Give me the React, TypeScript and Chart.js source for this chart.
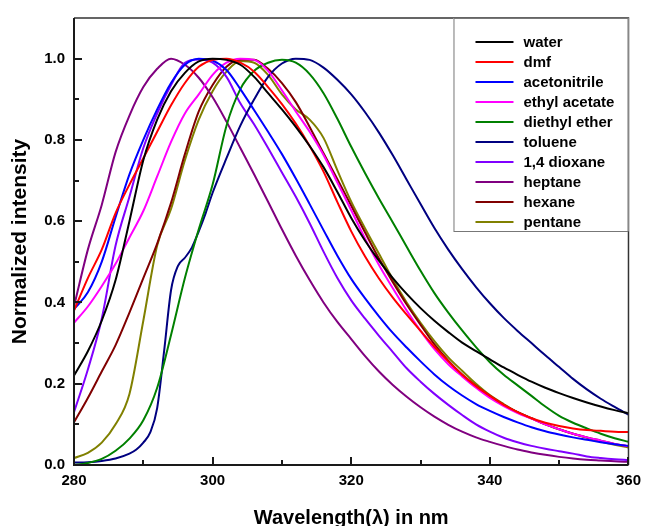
import React, { useEffect, useRef } from "react";
import { Chart, registerables } from "chart.js";

Chart.register(...registerables);

// ---- data (normalized emission) ----
const wavelengths = [
  280, 282, 284, 286, 288, 290, 292, 294, 296, 298, 300,
  302, 304, 306, 308, 310, 312, 314, 316, 318, 320,
  322, 324, 326, 328, 330, 332, 334, 336, 338, 340,
  342, 344, 346, 348, 350, 352, 354, 356, 358, 360,
];

const water = [
  0.22, 0.28, 0.355, 0.455, 0.6, 0.75, 0.85, 0.92, 0.965, 0.993, 1.0,
  0.997, 0.985, 0.955, 0.915, 0.875, 0.832, 0.785, 0.733, 0.672, 0.608,
  0.552, 0.503, 0.46, 0.421, 0.386, 0.355, 0.327, 0.301, 0.28, 0.26,
  0.24, 0.222, 0.205, 0.19, 0.177, 0.165, 0.154, 0.144, 0.135, 0.127,
];

const dmf = [
  0.38, 0.46, 0.53, 0.62, 0.69, 0.755, 0.82, 0.885, 0.94, 0.98, 0.997,
  1.0, 0.99, 0.968, 0.93, 0.888, 0.84, 0.785, 0.722, 0.647, 0.575,
  0.513, 0.459, 0.412, 0.37, 0.33, 0.291, 0.255, 0.222, 0.194, 0.17,
  0.148, 0.13, 0.115, 0.104, 0.096, 0.09, 0.086, 0.084, 0.082, 0.081,
];

const acetonitrile = [
  0.383, 0.425, 0.5, 0.61, 0.715, 0.8, 0.875, 0.94, 0.985, 1.0, 0.995,
  0.972, 0.925, 0.873, 0.82, 0.765, 0.705, 0.642, 0.578, 0.515, 0.458,
  0.41, 0.366, 0.325, 0.289, 0.255, 0.223, 0.195, 0.171, 0.15, 0.133,
  0.118, 0.105, 0.093, 0.083, 0.075, 0.068, 0.062, 0.056, 0.051, 0.047,
];

const ethylAcetate = [
  0.35, 0.39, 0.44, 0.495, 0.56, 0.625, 0.71, 0.795, 0.865, 0.912, 0.96,
  0.99, 1.0, 0.997, 0.97, 0.922, 0.87, 0.82, 0.763, 0.695, 0.627,
  0.557, 0.492, 0.435, 0.38, 0.33, 0.285, 0.248, 0.218, 0.19, 0.165,
  0.145, 0.128, 0.114, 0.1, 0.088, 0.077, 0.068, 0.06, 0.052, 0.046,
];

const diethylEther = [
  0.0, 0.005, 0.015, 0.035, 0.065, 0.11, 0.19, 0.32, 0.46, 0.58, 0.69,
  0.835, 0.925, 0.97, 0.99, 0.997, 0.99, 0.962, 0.915, 0.852, 0.783,
  0.718, 0.656, 0.597, 0.537, 0.478, 0.423, 0.375, 0.331, 0.29, 0.253,
  0.222, 0.196, 0.17, 0.144, 0.121, 0.104, 0.09, 0.077, 0.066, 0.057,
];

const tolueneWavelengths = [
  280, 282, 284, 286, 288, 289, 290, 291, 292, 293, 294, 295, 296, 297, 298, 299, 300,
  302, 304, 306, 308, 310, 312, 314, 316, 318, 320,
  322, 324, 326, 328, 330, 332, 334, 336, 338, 340,
  342, 344, 346, 348, 350, 352, 354, 356, 358, 360,
];

const toluene = [
  0.006, 0.007, 0.01, 0.016, 0.028, 0.038, 0.055, 0.08, 0.14, 0.28, 0.43, 0.49, 0.51, 0.535, 0.575, 0.62, 0.67,
  0.755, 0.835, 0.9, 0.955, 0.988, 1.0, 0.997, 0.978, 0.948, 0.912,
  0.868, 0.818, 0.762, 0.702, 0.642, 0.583, 0.53, 0.482, 0.438, 0.398,
  0.362, 0.33, 0.3, 0.27, 0.241, 0.212, 0.186, 0.163, 0.143, 0.124,
];

const dioxane = [
  0.13, 0.235, 0.36, 0.54, 0.66, 0.78, 0.865, 0.935, 0.99, 0.998, 0.99,
  0.955, 0.89, 0.838, 0.78, 0.72, 0.66, 0.595, 0.525, 0.46, 0.405,
  0.36, 0.318, 0.278, 0.238, 0.205, 0.175, 0.148, 0.123, 0.1, 0.082,
  0.067, 0.056, 0.047, 0.04, 0.034, 0.028, 0.021, 0.017, 0.014, 0.012,
];

const heptane = [
  0.39, 0.53, 0.64, 0.77, 0.86, 0.93, 0.975, 1.0, 0.985, 0.953, 0.905,
  0.845, 0.78, 0.715, 0.648, 0.58, 0.515, 0.455, 0.4, 0.352, 0.31,
  0.268, 0.23, 0.197, 0.168, 0.142, 0.119, 0.099, 0.082, 0.068, 0.057,
  0.047, 0.038, 0.031, 0.025, 0.02, 0.016, 0.013, 0.011, 0.009, 0.008,
];

const hexane = [
  0.105, 0.165, 0.23, 0.295, 0.375, 0.46, 0.545, 0.645, 0.765, 0.87, 0.935,
  0.98, 0.998, 0.997, 0.975, 0.94, 0.893, 0.832, 0.767, 0.703, 0.638,
  0.572, 0.508, 0.45, 0.395, 0.345, 0.297, 0.257, 0.223, 0.195, 0.17,
  0.148, 0.13, 0.115, 0.1, 0.088, 0.077, 0.068, 0.06, 0.052, 0.046,
];

const pentane = [
  0.017, 0.03, 0.055, 0.1, 0.175, 0.355, 0.54, 0.63, 0.75, 0.85, 0.92,
  0.968, 0.994, 0.99, 0.96, 0.912, 0.875, 0.85, 0.805, 0.725, 0.648,
  0.582, 0.52, 0.457, 0.4, 0.35, 0.305, 0.265, 0.232, 0.2, 0.172,
  0.15, 0.13, 0.115, 0.1, 0.088, 0.077, 0.067, 0.058, 0.05, 0.043,
];

const seriesNames = [
  "water", "dmf", "acetonitrile", "ethyl acetate", "diethyl ether",
  "toluene", "1,4 dioxane", "heptane", "hexane", "pentane",
];
const seriesValues = [
  water, dmf, acetonitrile, ethylAcetate, diethylEther,
  toluene, dioxane, heptane, hexane, pentane,
];
const seriesX = [
  wavelengths, wavelengths, wavelengths, wavelengths, wavelengths,
  tolueneWavelengths, wavelengths, wavelengths, wavelengths, wavelengths,
];
const seriesColors = [
  "#000000", "#FF0000", "#0000FF", "#FF00FF", "#008000",
  "#000080", "#8000FF", "#800080", "#800000", "#808000",
];

const xMajorTicks = [280, 300, 320, 340, 360];
const xMinorTicks = [290, 310, 330, 350];
const yMajorTicks = [0, 0.2, 0.4, 0.6, 0.8, 1.0];
const yMinorTicks = [0.1, 0.3, 0.5, 0.7, 0.9];

const FONT = "'Liberation Sans', Arial, sans-serif";

const framePlugin = {
  id: "frameTicksLegend",
  afterDatasetsDraw(chart: any) {
    const { ctx, chartArea, scales } = chart;
    const { left, right, top, bottom } = chartArea;
    const xs = scales.x;
    const ys = scales.y;
    ctx.save();
    // frame
    ctx.strokeStyle = "#333333";
    ctx.lineWidth = 1.5;
    ctx.beginPath();
    ctx.moveTo(left, top);
    ctx.lineTo(right, top);
    ctx.lineTo(right, bottom);
    ctx.stroke();
    ctx.strokeStyle = "#1a1a1a";
    ctx.lineWidth = 2;
    ctx.beginPath();
    ctx.moveTo(left, top);
    ctx.lineTo(left, bottom);
    ctx.lineTo(right, bottom);
    ctx.stroke();
    // inward ticks
    ctx.lineWidth = 2;
    ctx.beginPath();
    xMajorTicks.forEach((v) => {
      const p = Math.round(xs.getPixelForValue(v));
      ctx.moveTo(p, bottom);
      ctx.lineTo(p, bottom - 8);
    });
    xMinorTicks.forEach((v) => {
      const p = Math.round(xs.getPixelForValue(v));
      ctx.moveTo(p, bottom);
      ctx.lineTo(p, bottom - 5);
    });
    yMajorTicks.forEach((v) => {
      const p = Math.round(ys.getPixelForValue(v));
      ctx.moveTo(left, p);
      ctx.lineTo(left + 8, p);
    });
    yMinorTicks.forEach((v) => {
      const p = Math.round(ys.getPixelForValue(v));
      ctx.moveTo(left, p);
      ctx.lineTo(left + 5, p);
    });
    ctx.stroke();

    // legend box
    const boxW = 175;
    const boxH = 213;
    const bx = right - boxW;
    const by = top;
    ctx.fillStyle = "#ffffff";
    ctx.fillRect(bx, by, boxW, boxH);
    ctx.strokeStyle = "#777777";
    ctx.lineWidth = 1;
    ctx.strokeRect(bx + 0.5, by + 0.5, boxW - 1, boxH);
    ctx.font = `bold 15px ${FONT}`;
    ctx.textBaseline = "middle";
    ctx.textAlign = "left";
    chart.data.datasets.forEach((ds: any, i: number) => {
      const cy = by + 24 + i * 20;
      ctx.strokeStyle = ds.borderColor;
      ctx.lineWidth = 2;
      ctx.beginPath();
      ctx.moveTo(bx + 22, cy);
      ctx.lineTo(bx + 60, cy);
      ctx.stroke();
      ctx.fillStyle = "#000000";
      ctx.fillText(ds.label, bx + 70, cy + 1);
    });
    ctx.restore();
  },
};

export default function App() {
  const canvasRef = useRef<HTMLCanvasElement | null>(null);

  useEffect(() => {
    if (!canvasRef.current) return;
    const datasets = seriesNames.map((name, i) => ({
      label: name,
      data: seriesX[i].map((x, j) => ({ x, y: seriesValues[i][j] })),
      borderColor: seriesColors[i],
      backgroundColor: seriesColors[i],
      borderWidth: 2,
      pointRadius: 0,
      fill: false,
      cubicInterpolationMode: "monotone" as const,
    }));

    const chart = new Chart(canvasRef.current, {
      type: "line",
      data: { datasets },
      options: {
        animation: false,
        responsive: false,
        devicePixelRatio: 1,
        layout: { padding: { left: 0, right: 16, top: 14, bottom: 0 } },
        plugins: {
          legend: { display: false },
          tooltip: { enabled: false },
        },
        scales: {
          x: {
            type: "linear",
            min: 280,
            max: 360,
            grid: { display: false, drawTicks: false },
            border: { display: false },
            afterFit: (s: any) => {
              s.height = 61;
            },
            ticks: {
              stepSize: 20,
              padding: 7,
              color: "#000000",
              font: { family: FONT, size: 15, weight: "bold" },
              callback: (v: any) => String(v),
            },
            title: {
              display: true,
              text: "Wavelength(λ) in nm",
              color: "#000000",
              font: { family: FONT, size: 20, weight: "bold", lineHeight: 1 },
              padding: { top: 0, bottom: -2 },
            },
          },
          y: {
            type: "linear",
            min: 0,
            max: 1.1,
            grid: { display: false, drawTicks: false },
            border: { display: false },
            afterFit: (s: any) => {
              s.width = 74;
            },
            ticks: {
              stepSize: 0.2,
              includeBounds: false,
              padding: 9,
              color: "#000000",
              font: { family: FONT, size: 15, weight: "bold" },
              callback: (v: any) => Number(v).toFixed(1),
            },
            title: {
              display: true,
              text: "Normalized intensity",
              color: "#000000",
              font: { family: FONT, size: 21, weight: "bold", lineHeight: 1.2 },
              padding: { top: 8, bottom: 0 },
            },
          },
        },
      },
      plugins: [framePlugin],
    });
    return () => chart.destroy();
  }, []);

  return (
    <div style={{ position: "absolute", left: 0, top: 0, width: 648, height: 526, background: "#ffffff" }}>
      <canvas ref={canvasRef} width={648} height={526} style={{ display: "block" }} />
    </div>
  );
}
